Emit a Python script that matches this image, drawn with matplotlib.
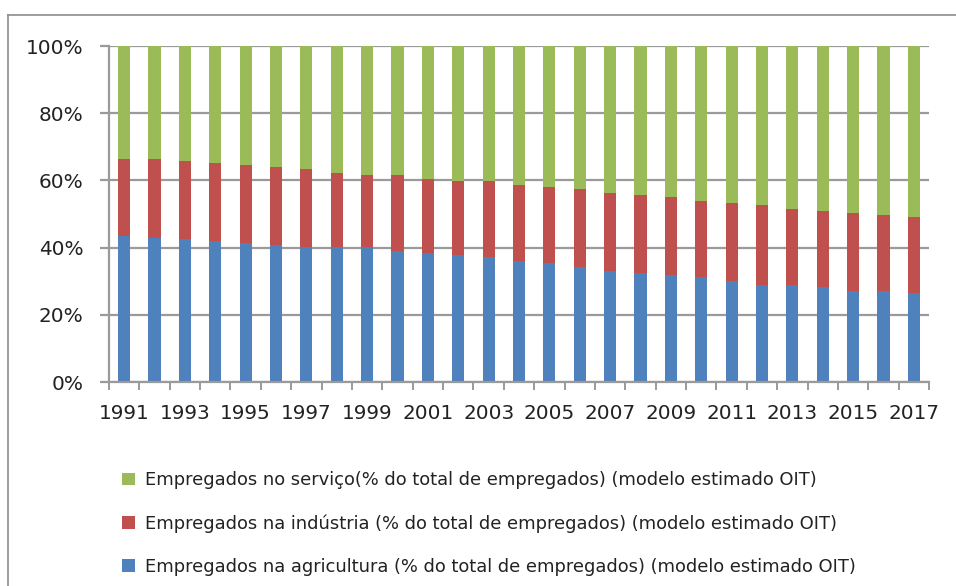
import numpy as np
import matplotlib.pyplot as plt
from matplotlib.lines import Line2D
from matplotlib.ticker import FixedLocator

plt.rcParams['font.family'] = ['DejaVu Sans']

anos = list(range(1991, 2018))
agricultura = [43.5, 42.9, 42.5, 41.9, 41.3, 40.7, 40.1, 40.1, 40.1, 38.9,
               38.3, 37.7, 37.1, 35.9, 35.3, 34.1, 32.9, 32.4, 31.8, 31.2,
               30.0, 28.8, 28.8, 28.2, 27.0, 27.0, 26.4]
industria = [22.8, 23.4, 23.2, 23.2, 23.2, 23.2, 23.2, 22.0, 21.4, 22.6,
             22.0, 22.0, 22.6, 22.6, 22.6, 23.2, 23.3, 23.2, 23.2, 22.6,
             23.2, 23.8, 22.6, 22.6, 23.2, 22.6, 22.6]
servico = [33.7, 33.7, 34.3, 34.9, 35.5, 36.1, 36.7, 37.9, 38.5, 38.5,
           39.7, 40.3, 40.3, 41.5, 42.1, 42.7, 43.8, 44.4, 45.0, 46.2,
           46.8, 47.4, 48.6, 49.2, 49.8, 50.4, 51.0]

rotulos = ['Empregados na agricultura (% do total de empregados) (modelo estimado OIT)',
           'Empregados na indústria (% do total de empregados) (modelo estimado OIT)',
           'Empregados no serviço(% do total de empregados) (modelo estimado OIT)']
cores = ['#4F81BD', '#C0504D', '#9BBB59']

fig = plt.figure(figsize=(9.56, 5.86), dpi=100)
# moldura do grafico (estilo Excel), so topo e esquerda aparecem
x0, y0 = 8 / 956, 1 - 15 / 586
fig.add_artist(Line2D([x0, 1.0], [y0, y0], transform=fig.transFigure,
                      color='#8c8c8c', linewidth=1.2))
fig.add_artist(Line2D([x0, x0], [0.0, y0], transform=fig.transFigure,
                      color='#8c8c8c', linewidth=1.2))

ax = fig.add_axes([109 / 956, 1 - 382 / 586, 820 / 956, 336 / 586])

x = np.arange(len(anos))
base = np.zeros(len(anos))
for valores, cor, rot in zip([agricultura, industria, servico], cores, rotulos):
    ax.bar(x, valores, width=0.4, bottom=base, color=cor, label=rot)
    base += np.array(valores)

ax.set_xlim(-0.5, len(anos) - 0.5)
ax.set_ylim(0, 100)
ax.set_yticks(range(0, 101, 20))
ax.set_yticklabels([f'{v}%' for v in range(0, 101, 20)])
ax.yaxis.grid(True, color='#9a9a9a', linewidth=1.6)
ax.set_axisbelow(True)

ax.set_xticks(x[::2])
ax.set_xticklabels([str(a) for a in anos[::2]])
ax.xaxis.set_minor_locator(FixedLocator(np.arange(-0.5, len(anos), 1)))
ax.tick_params(axis='x', which='major', length=0, pad=16, labelsize=14.4, labelcolor='#222222')
ax.tick_params(axis='x', which='minor', length=6, width=1.4, color='#9a9a9a')
ax.tick_params(axis='y', length=6.5, width=1.6, color='#9a9a9a', pad=12,
               labelsize=14.4, labelcolor='#222222')

for s in ['top', 'right']:
    ax.spines[s].set_visible(False)
for s in ['left', 'bottom']:
    ax.spines[s].set_color('#9a9a9a')
    ax.spines[s].set_linewidth(1.6)

h, l = ax.get_legend_handles_labels()
fig.legend(h[::-1], l[::-1], loc='upper left', bbox_to_anchor=(106 / 956, 1 - 455 / 586),
           frameon=False, fontsize=12.9, handlelength=0.7, handleheight=0.7,
           labelspacing=1.4, handletextpad=0.6, labelcolor='#222222')

fig.savefig('out.png', dpi=100)
